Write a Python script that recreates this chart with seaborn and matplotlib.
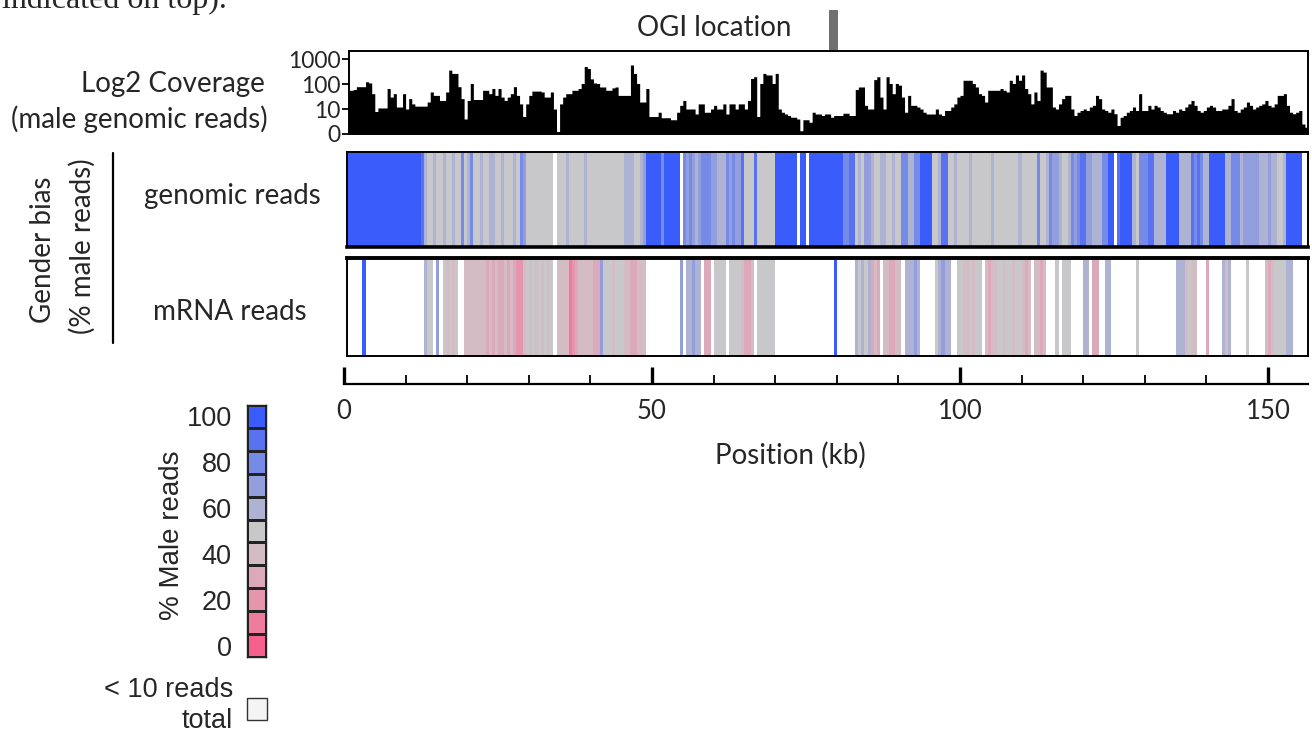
import numpy as np
import pandas as pd
import matplotlib
matplotlib.use("Agg")
import matplotlib.pyplot as plt
from matplotlib.colors import ListedColormap
from matplotlib.patches import Rectangle
from matplotlib.lines import Line2D
from matplotlib.ticker import NullLocator, FixedLocator
import seaborn as sns

N = None
BIN_KB = 0.5
X_MAX_KB = 156.5
OGI_KB = 79.5

# male genomic coverage, 0.5 kb bins
coverage = [
    56, 56, 56, 60, 78, 78, 78, 123, 110, 41, 9, 11, 11, 11, 66, 30, 41, 12, 12, 41,
    10, 26, 16, 13, 13, 13, 13, 19, 48, 35, 35, 22, 22, 48, 360, 265, 265, 78, 26, 6,
    22, 105, 24, 24, 24, 56, 56, 41, 66, 35, 66, 30, 22, 30, 41, 78, 35, 16, 7, 16,
    35, 52, 52, 52, 48, 30, 30, 48, 10, 1, 16, 30, 41, 41, 56, 56, 66, 105, 500, 420,
    160, 110, 105, 76, 76, 56, 56, 70, 76, 35, 35, 35, 35, 575, 265, 105, 19, 19, 66, 7,
    7, 7, 8.7, 6.5, 6.5, 6.5, 5.7, 5.7, 8.7, 14, 22, 10, 10, 10, 8, 16, 16, 8.7, 8.7, 10,
    14, 10, 10, 16, 8, 16, 16, 10, 16, 16, 10, 22, 166, 195, 7, 105, 265, 230, 230, 105,
    265, 10, 8.7, 8, 7.4, 6.7, 6.7, 6, 1.3, 5.7, 5.7, 4.7, 8.7, 8, 8, 7.4, 8, 8, 6.7, 7.4,
    7.4, 7.4, 8.3, 8.3, 7.4, 7.4, 60, 76, 76, 14, 10, 10, 150, 195, 30, 10, 195, 105, 41, 105,
    90, 30, 8.7, 35, 14, 14, 12, 10, 8.7, 8, 8, 8, 10, 8, 7.4, 9.4, 9.4, 12, 16, 30,
    35, 141, 141, 141, 105, 76, 41, 35, 19, 56, 56, 56, 56, 66, 56, 48, 141, 105, 230, 141,
    230, 66, 41, 16, 48, 22, 360, 300, 76, 76, 12, 10, 16, 26, 35, 35, 10, 7.4, 8.7, 9.4,
    10, 9.4, 12, 14, 35, 26, 10, 9.4, 8.7, 10, 8.1, 3.4, 6.7, 7.4, 8.7, 9.4, 12, 9.4, 41, 9.4,
    9.4, 14, 10, 14, 12, 9.4, 8.7, 8.1, 8.1, 9.4, 8.7, 10, 9.4, 12, 16, 22, 14, 9.4, 8.7, 9.4,
    12, 14, 12, 9.4, 9.4, 10, 10, 14, 26, 9.4, 8.7, 10, 12, 19, 14, 10, 12, 14, 16, 22,
    14, 12, 16, 35, 35, 41, 14, 8.7, 8.1, 8.7, 9.4, 4, 2.7,
]

# % male reads, genomic reads (None = < 10 reads total)
genomic_pct = [
    100, 100, 100, 100, 100, 100, 100, 100, 100, 100, 100, 100, 100, 100, 100, 100, 100, 100, 100, 100,
    100, 100, 100, 100, 100, 90, 60, 50, 50, 60, 50, 50, 60, 50, 50, 60, 50, 50, 80, 50,
    60, 80, 50, 50, 60, 50, 50, 60, 60, 50, 50, 60, 50, 50, 50, 60, 50, 80, 70, 50,
    50, 50, 50, 50, 50, 50, 50, 50, N, 50, 50, 50, 60, 50, 50, 50, 50, 50, 60, 50,
    50, 50, 50, 50, 50, 50, 50, 50, 50, 50, 50, 60, 60, 60, 50, 50, 60, 70, 100, 100,
    100, 100, 100, 80, 100, 100, 100, 100, 100, N, 80, 70, 80, 70, 60, 70, 80, 80, 80, 70,
    70, 60, 60, 60, 80, 70, 80, 70, 70, 90, 50, 50, 50, 90, 50, 50, 50, 50, 50, 50,
    100, 100, 100, 100, 100, 100, 100, N, 100, 100, N, 100, 100, 100, 100, 100, 100, 100, 100, 100,
    100, 100, 80, 80, 90, 90, 50, 60, 50, 70, 70, 60, 50, 50, 60, 60, 50, 50, 60, 50,
    50, 80, 80, 60, 60, 80, 80, 100, 100, 100, 100, 50, 50, 60, 90, 90, 50, 50, 60, 50,
    50, 50, 50, 60, 50, 50, 50, 50, 50, 50, 60, 50, 50, 50, 50, 50, 50, 50, 50, 60,
    50, 50, 50, 50, 50, 80, 50, 50, 60, 80, 70, 70, 60, 50, 50, 60, 80, 70, 80, 90,
    90, 70, 70, 60, 60, 60, 80, 80, 100, 100, N, 90, 100, 100, 100, 100, 60, 50, 80, 80,
    80, 90, 90, 60, 60, 60, 60, 100, 100, 100, 100, 60, 60, 60, 60, 90, 80, 90, 80, 60,
    60, 100, 100, 100, 100, 100, 60, 60, 80, 80, 80, 60, 70, 70, 70, 70, 70, 60, 60, 60,
    70, 60, 60, 50, 50, 60, 100, 100, 100, 100, 100, N, N,
]

# % male reads, mRNA reads (None = < 10 reads total)
mrna_pct = [
    N, N, N, N, N, N, 100, N, N, N, N, N, N, N, N, N, N, N, N, N,
    N, N, N, N, N, N, 60, 50, 50, N, 70, N, 50, 40, 50, 40, 50, N, N, 40,
    40, 40, 40, 40, 40, 40, 30, 40, 30, 40, 30, 30, 40, 30, 40, 30, 20, 20, 40, 50,
    40, 50, 40, 50, 40, 50, 40, 50, N, 40, 40, 40, 40, 10, 20, 30, 40, 40, 40, 40,
    40, 30, 30, 70, 50, 50, 50, 40, 50, 50, 50, 40, 40, 30, 30, 40, 40, 40, N, N,
    N, N, N, N, N, N, N, N, N, 70, N, 60, 60, 70, 60, 60, N, 30, 30, N,
    50, 50, 50, 50, N, 50, 50, 50, 50, 40, 30, 30, 40, N, 50, 50, 50, 50, 50, 50,
    N, N, N, N, N, N, N, N, N, N, N, N, N, N, N, N, N, N, N, 100,
    N, N, N, N, N, N, 60, 50, 60, 50, 60, 30, 40, 30, N, 40, 40, 30, 30, 40,
    40, N, 60, 60, 60, 70, 60, N, N, N, N, N, 50, 60, 70, 60, 60, N, N, 50,
    50, 40, 40, 50, 40, 50, 50, N, 40, 30, 40, 40, 50, 50, 40, 50, 50, 40, 50, 50,
    40, 30, 40, N, 40, 40, 30, 40, N, N, N, 50, N, 50, 50, 50, N, N, N, N,
    60, 60, N, 30, 30, N, N, 60, 60, N, N, N, N, N, N, N, N, 50, N, N,
    N, N, N, N, N, N, N, N, N, N, 60, 60, 60, 40, 50, 40, 40, N, N, N,
    30, N, N, N, N, 60, 40, 60, N, N, N, N, N, 50, N, N, N, N, N, 40,
    30, 40, 50, 50, 50, 50, 60, 60, N, N, N, N, N,
]

legend_levels = [100, 90, 80, 70, 60, 50, 40, 30, 20, 10, 0]
legend_tick_labels = ["100", "80", "60", "40", "20", "0"]
cov_ticks = [0, 10, 100, 1000]
cov_tick_labels = ["0", "10", "100", "1000"]
pos_major = [0, 50, 100, 150]
pos_minor = [10, 20, 30, 40, 60, 70, 80, 90, 110, 120, 130, 140]

# colours for 0,10,...,100 % male
level_colors = ["#F5608E", "#EE7C9E", "#E596AE", "#DCA9BA", "#D3BCC4", "#C8C8CA",
                "#AEB3D4", "#939EDD", "#768AE7", "#5872F1", "#3A5CFB"]
cmap = ListedColormap(level_colors)

sns.set_theme(style="white")
SANS = ["Lato", "DejaVu Sans"]
ARIAL = ["Liberation Sans", "DejaVu Sans"]
plt.rcParams["font.family"] = SANS

W, H = 1312, 735
fig = plt.figure(figsize=(W / 100, H / 100), dpi=100)


def rect(l, t, r, b):
    return [l / W, 1 - b / H, (r - l) / W, (b - t) / H]


def ftext(x, y, s, **kw):
    return fig.text(x / W, 1 - y / H, s, **kw)


PX0, PXKB = 344, 6.16  # layout: pixel of 0 kb, pixels per kb

# ---------------- coverage ----------------
ax_cov = fig.add_axes(rect(349, 51, 1308, 134))
n_bins = len(coverage)
cov_df = pd.DataFrame({"pos": np.arange(n_bins) * BIN_KB + BIN_KB / 2,
                       "cov": np.asarray(coverage, dtype=float)})
sns.histplot(data=cov_df, x="pos", weights="cov", bins=n_bins,
             binrange=(0, n_bins * BIN_KB), element="step", fill=True,
             color="black", alpha=1, linewidth=0, ax=ax_cov)
ax_cov.set_yscale("symlog", linthresh=10, linscale=0.9)
ax_cov.set_ylim(0, 2090)
ax_cov.set_xlim((349 - PX0) / PXKB, X_MAX_KB)
ax_cov.yaxis.set_major_locator(FixedLocator(cov_ticks))
ax_cov.yaxis.set_minor_locator(NullLocator())
ax_cov.set_yticklabels(cov_tick_labels)
ax_cov.set_xticks([])
ax_cov.set_xlabel("")
ax_cov.set_ylabel("")
ax_cov.tick_params(axis="y", which="major", direction="out", length=5, width=1.3,
                   labelsize=16.5, pad=1, left=True, color="black")
for s in ax_cov.spines.values():
    s.set_color("black")
    s.set_linewidth(1.4)
ax_cov.axvspan(OGI_KB - 0.7, OGI_KB + 0.7, ymin=1.0, ymax=1.5, color="#707070",
               clip_on=False, lw=0)

# ---------------- heatmap strips ----------------
x_lo = (347 - PX0) / PXKB / BIN_KB
x_hi = X_MAX_KB / BIN_KB
for data, box, tb in [(genomic_pct, (347, 152, 1308, 247), (1.4, 2.6)),
                      (mrna_pct, (347, 258, 1308, 356), (2.8, 1.4))]:
    ax = fig.add_axes(rect(*box))
    arr = np.array([data], dtype=float)
    sns.heatmap(arr, cmap=cmap, vmin=-5, vmax=105, cbar=False,
                xticklabels=False, yticklabels=False, ax=ax)
    ax.set_xlim(x_lo, x_hi)
    for name, s in ax.spines.items():
        s.set_visible(True)
        s.set_color("black")
        s.set_linewidth(1.4)
    ax.spines["top"].set_linewidth(tb[0])
    ax.spines["bottom"].set_linewidth(tb[1])

# ---------------- position axis ----------------
ax_pos = fig.add_axes(rect(PX0, 330, 1308, 384))
ax_pos.set_facecolor("none")
ax_pos.set_xlim(0, X_MAX_KB)
ax_pos.set_ylim(0, 1)
ax_pos.set_yticks([])
ax_pos.set_xticks(pos_major)
ax_pos.set_xticklabels([str(v) for v in pos_major])
ax_pos.set_xticks(pos_minor, minor=True)
for name, s in ax_pos.spines.items():
    s.set_visible(name == "bottom")
ax_pos.spines["bottom"].set_linewidth(1.6)
ax_pos.spines["bottom"].set_color("black")
ax_pos.tick_params(axis="x", which="major", direction="in", length=12, width=2.4,
                   labelsize=18.5, pad=11, bottom=True, color="black")
ax_pos.tick_params(axis="x", which="minor", direction="in", length=6.5, width=1.3,
                   bottom=True, color="black")
ftext(790, 455, "Position (kb)", ha="center", va="center", fontsize=20)

# ---------------- colour legend ----------------
ax_leg = fig.add_axes(rect(247, 405, 266, 657))
sns.heatmap(np.array(legend_levels, dtype=float)[:, None], cmap=cmap, vmin=-5, vmax=105,
            cbar=False, linewidths=0.8, linecolor="#222222", xticklabels=False,
            yticklabels=False, ax=ax_leg)
ax_leg.set_yticks([0.5, 2.5, 4.5, 6.5, 8.5, 10.5])
ax_leg.set_yticklabels(legend_tick_labels, rotation=0, family=ARIAL, fontsize=19.5)
ax_leg.tick_params(axis="y", length=0, pad=11, left=True)
for s in ax_leg.spines.values():
    s.set_visible(True)
    s.set_color("#222222")
    s.set_linewidth(1.0)
ftext(172, 535, "% Male reads", rotation=90, ha="center", va="center",
      fontsize=20, family=ARIAL)
ftext(233, 690, "< 10 reads", ha="right", va="center", fontsize=19.5, family=ARIAL)
ftext(233, 721, "total", ha="right", va="center", fontsize=19.5, family=ARIAL)
fig.add_artist(Rectangle((247 / W, 1 - 720 / H), 20 / W, 22 / H, facecolor="#f4f4f4",
                         edgecolor="#333333", lw=1.0, transform=fig.transFigure))

# ---------------- left labels ----------------
ftext(265, 84, "Log2 Coverage", ha="right", va="center", fontsize=20)
ftext(268, 119, "(male genomic reads)", ha="right", va="center", fontsize=20)
ftext(43, 250, "Gender bias", rotation=90, ha="center", va="center", fontsize=20)
ftext(82, 246, "(% male reads)", rotation=90, ha="center", va="center", fontsize=20)
fig.add_artist(Line2D([113 / W, 113 / W], [1 - 153 / H, 1 - 343 / H], color="black",
                      lw=1.6, transform=fig.transFigure))
ftext(232, 196, "genomic reads", ha="center", va="center", fontsize=20)
ftext(230, 312, "mRNA reads", ha="center", va="center", fontsize=20)
ftext(714, 28, "OGI location", ha="center", va="center", fontsize=20)

# cropped caption line from the page above
ftext(2, 8, "indicated on top).", ha="left", va="baseline", fontsize=23,
      family=["Liberation Serif", "DejaVu Serif"])

fig.savefig("out.png", dpi=100, facecolor="white")
